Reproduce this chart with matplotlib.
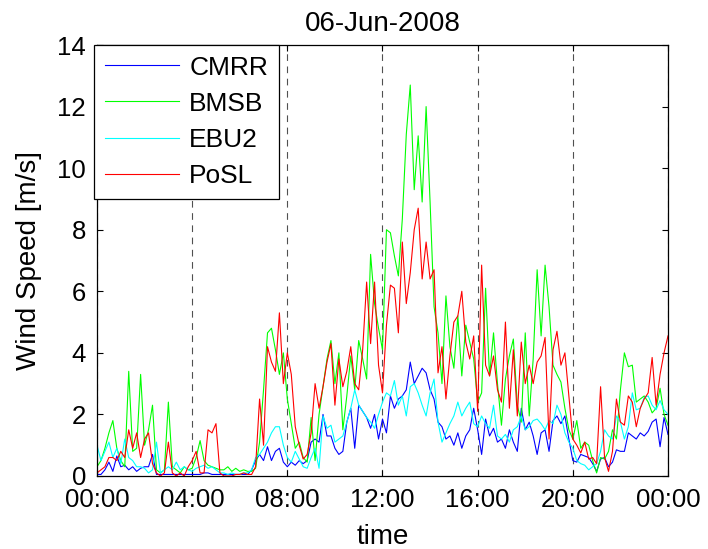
import numpy as np
import pandas as pd
import matplotlib
matplotlib.use('Agg')
from matplotlib import pyplot as plt
import matplotlib.dates as mdates

plt.rcParams['font.family'] = ['Liberation Sans', 'DejaVu Sans']

# 10-minute wind speeds [m/s], 06-Jun-2008 00:00 -> 07-Jun-2008 00:00
times = pd.date_range('2008-06-06 00:00', '2008-06-07 00:00', freq='10min')

cmrr = [0.05, 0.05, 0.2, 0.45, 0.15, 0.65, 0.3, 0.35, 0.2, 0.3, 0.15, 0.25, 0.3, 0.3, 0.7, 0.05, 0.05, 0.05, 0.05, 0.05, 0.05, 0.05, 0.05, 0.05, 0.05,
        0.05, 0.05, 0.1, 0.1, 0.05, 0.05, 0.05, 0.05, 0.05, 0.05, 0.05, 0.05, 0.05, 0.05, 0.2, 0.5, 0.7, 0.5, 0.95, 0.5, 0.8, 0.9, 0.45, 0.3,
        0.45, 0.35, 0.5, 0.4, 0.5, 1.1, 1.2, 1.1, 2.0, 1.3, 1.3, 0.9, 0.7, 0.8, 1.75, 2.2, 0.9, 2.3, 2.1, 1.9, 1.55, 2.0, 1.2, 1.85,
        1.4, 2.6, 2.2, 2.5, 2.6, 2.8, 3.7, 3.0, 3.25, 3.5, 3.35, 2.8, 2.5, 1.75, 1.6, 1.2, 1.3, 1.0, 1.4, 0.9, 1.3, 1.5, 2.2, 1.5, 0.7,
        1.85, 1.3, 1.55, 1.1, 1.2, 0.9, 1.5, 1.1, 0.8, 2.2, 1.5, 1.75, 1.3, 0.7, 1.4, 1.5, 0.8, 1.8, 1.95, 1.7, 1.95, 1.2,
        0.5, 0.45, 0.7, 0.65, 0.6, 0.4, 0.15, 0.55, 0.6, 0.3, 0.45, 0.85, 0.8, 0.8, 1.4, 1.3, 1.2, 1.4, 1.3, 1.45, 1.75, 1.85, 0.95, 1.9, 1.35]

bmsb = [0.3, 0.5, 0.9, 1.4, 1.8, 0.9, 0.5, 0.3, 3.4, 0.8, 0.9, 3.3, 1.0, 1.5, 2.3, 0.2, 0.1, 0.2, 2.4, 0.3, 0.2, 0.1, 0.3, 0.2, 0.25,
        0.6, 1.15, 0.5, 0.35, 0.3, 0.25, 0.2, 0.2, 0.3, 0.15, 0.25, 0.15, 0.2, 0.15, 0.15, 0.25, 1.1, 2.8, 4.65, 4.8, 4.1, 3.3, 4.0,
        2.5, 1.7, 0.9, 1.1, 0.6, 0.45, 1.9, 0.5, 2.0, 2.9, 3.8, 4.4, 3.0, 4.0, 1.5, 2.6, 3.9, 2.8, 4.4, 3.8, 3.15, 7.2, 5.6, 4.8, 4.1,
        8.0, 7.9, 7.15, 6.5, 8.35, 11.1, 12.7, 9.3, 11.05, 8.9, 12.0, 8.9, 5.5, 4.65, 3.0, 5.85, 4.2, 3.5, 5.2, 3.25, 4.9, 4.35, 3.8, 2.4, 2.7,
        6.1, 3.25, 4.65, 3.0, 1.65, 3.15, 3.9, 4.45, 2.3, 1.75, 4.65, 1.95, 3.8, 6.7, 4.55, 6.85, 5.5, 3.6, 3.3, 3.05, 2.2, 1.5,
        1.2, 1.8, 0.9, 1.1, 1.0, 0.5, 0.1, 0.6, 0.55, 0.8, 1.5, 1.2, 2.8, 4.0, 3.55, 3.6, 2.4, 2.5, 2.6, 2.4, 2.05, 2.2, 2.85, 2.0, 1.65]

ebu2 = [1.0, 0.5, 0.8, 1.1, 0.6, 0.9, 0.4, 1.2, 0.6, 0.5, 0.3, 0.3, 0.25, 0.1, 0.2, 1.1, 0.1, 0.2, 0.3, 0.2, 0.45, 0.2, 0.3, 0.2, 0.15,
        0.25, 0.3, 0.35, 0.25, 0.3, 0.2, 0.1, 0.1, 0.05, 0.1, 0.05, 0.05, 0.1, 0.1, 0.2, 0.6, 0.7, 0.9, 1.1, 1.4, 1.6, 1.6, 1.0,
        0.6, 0.45, 0.8, 0.55, 0.3, 0.25, 0.6, 0.9, 0.25, 1.95, 1.55, 1.65, 1.1, 1.2, 1.3, 1.75, 2.2, 2.8, 2.3, 2.1, 1.9, 1.75, 1.55, 2.0, 2.4,
        2.7, 2.6, 3.1, 2.3, 2.6, 1.95, 2.9, 3.0, 2.7, 2.3, 1.95, 2.7, 3.15, 1.75, 1.1, 1.4, 1.7, 1.95, 2.4, 1.95, 2.2, 2.4, 1.7, 1.6, 1.95,
        1.7, 1.55, 2.3, 1.3, 1.2, 1.35, 1.1, 1.5, 1.6, 1.95, 1.5, 1.6, 1.8, 1.85, 1.7, 1.5, 1.8, 1.7, 2.3, 2.0, 1.4, 1.1,
        0.9, 0.5, 0.4, 0.35, 0.2, 0.3, 0.4, 0.8, 1.5, 1.3, 1.2, 1.95, 1.75, 1.2, 1.6, 2.7, 2.15, 2.2, 2.55, 2.6, 2.3, 2.15, 2.45, 2.15, 2.0]

posl = [0.1, 0.2, 0.3, 0.6, 0.6, 0.5, 0.8, 0.6, 1.5, 0.9, 1.4, 0.6, 1.2, 1.4, 0.4, 0.1, 0.0, 0.1, 1.1, 0.1, 0.0, 0.1, 0.0, 0.3, 0.5,
        0.8, 0.1, 0.1, 1.5, 1.4, 1.7, 0.1, 0.0, 0.0, 0.0, 0.05, 0.05, 0.1, 0.05, 0.05, 0.3, 2.5, 1.0, 4.2, 3.7, 3.4, 5.3, 3.0,
        4.0, 3.3, 1.6, 1.0, 0.55, 0.7, 1.4, 3.0, 2.2, 2.9, 3.7, 4.3, 2.3, 3.8, 2.9, 3.4, 4.2, 3.0, 2.8, 4.1, 6.3, 4.3, 6.3, 3.6, 2.7,
        4.9, 6.2, 6.1, 4.65, 7.6, 5.6, 6.6, 8.0, 8.7, 6.4, 7.6, 6.4, 6.7, 3.35, 4.2, 2.5, 3.9, 5.0, 5.2, 6.0, 4.35, 3.8, 4.55, 2.1, 6.85,
        3.6, 3.25, 3.9, 2.8, 2.4, 5.0, 2.2, 4.1, 1.95, 4.35, 3.0, 3.6, 3.0, 3.7, 3.9, 4.5, 1.2, 4.1, 4.7, 3.6, 4.0, 2.6,
        1.2, 1.0, 0.75, 1.1, 0.55, 0.6, 0.4, 2.9, 0.6, 0.15, 0.8, 2.5, 1.75, 1.65, 2.6, 2.4, 1.6, 2.2, 2.5, 2.7, 3.85, 2.3, 3.3, 4.0, 4.55]

stations = ['CMRR', 'BMSB', 'EBU2', 'PoSL']
colors = ['#0000ff', '#00ff00', '#00ffff', '#ff0000']

fig = plt.figure(figsize=(7.08, 5.49), dpi=100)
ax = fig.add_axes([0.137, 0.133, 0.8065, 0.785])

for name, speed, c in zip(stations, [cmrr, bmsb, ebu2, posl], colors):
    ax.plot(times, speed, color=c, linewidth=0.8, label=name)

ax.set_xlim(times[0], times[-1])
ax.set_ylim(0, 14)
ax.set_yticks(range(0, 15, 2))
ax.xaxis.set_major_locator(mdates.HourLocator(byhour=range(0, 24, 4)))
ax.xaxis.set_major_formatter(mdates.DateFormatter('%H:%M'))

# dashed vertical grid at each time tick
ax.grid(axis='x', linestyle=(0, (6, 5)), color='#505050', linewidth=0.8)
ax.tick_params(direction='in', top=True, right=True, length=4, width=0.8,
               labelsize=18.5)
ax.tick_params(axis='x', pad=9)
ax.tick_params(axis='y', pad=8)
for sp in ax.spines.values():
    sp.set_linewidth(0.9)

ax.set_title('06-Jun-2008', fontsize=20, pad=10)
ax.set_xlabel('time', fontsize=20, labelpad=8)
ax.set_ylabel('Wind Speed [m/s]', fontsize=20, labelpad=11)

leg = ax.legend(loc='upper left', bbox_to_anchor=(-0.005, 1.0), fontsize=19,
                fancybox=False, edgecolor='black', framealpha=1,
                borderaxespad=0, handlelength=2.8, handletextpad=0.4,
                labelspacing=0.46, borderpad=0.4)
leg.get_frame().set_linewidth(0.9)

plt.savefig('out.png', dpi=100)
